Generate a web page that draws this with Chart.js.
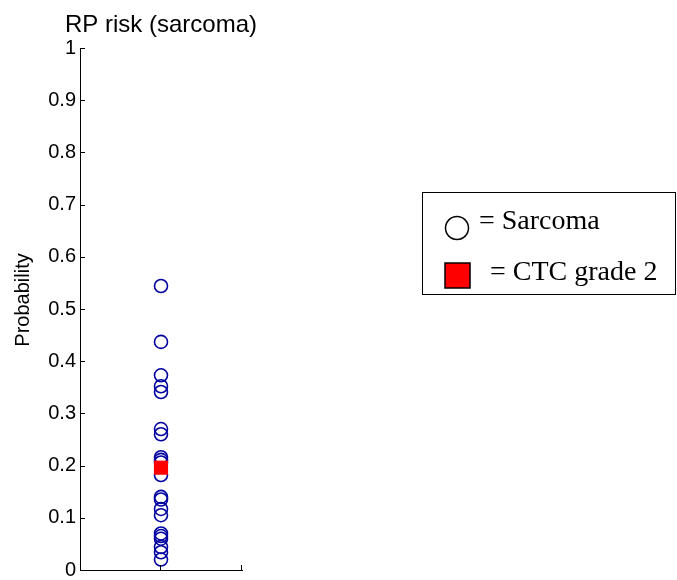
<!DOCTYPE html>
<html>
<head>
<meta charset="utf-8">
<title>RP risk (sarcoma)</title>
<script src="https://cdn.jsdelivr.net/npm/chart.js@4/dist/chart.umd.min.js"></script>
<style>
  body { margin: 0; background: #fff; }
  #wrap { width: 677px; height: 580px; }
</style>
</head>
<body>
<div id="wrap"><canvas id="riskChart"></canvas></div>
<script>
// values
let chartTitle = 'RP risk (sarcoma)';
let yLabel = 'Probability';
let legendLabels = ['Sarcoma', 'CTC grade 2'];
let sarcomaRisk = [0.544, 0.437, 0.373, 0.352, 0.341, 0.270, 0.260, 0.216, 0.211, 0.206, 0.182,
                   0.140, 0.135, 0.117, 0.105, 0.070, 0.065, 0.060, 0.044, 0.034, 0.020];
let ctcGrade2Risk = [0.196];
let yTicks = [0, 0.1, 0.2, 0.3, 0.4, 0.5, 0.6, 0.7, 0.8, 0.9, 1];
let yTickLabels = ['0', '0.1', '0.2', '0.3', '0.4', '0.5', '0.6', '0.7', '0.8', '0.9', '1'];
let xTicks = [1, 2];

function toPoints(values) {
    return values.map(function (v) { return { x: 1, y: v }; });
}

// MATLAB style extras: inward ticks, title, axis label and the boxed legend
let extras = {
    id: 'extras',
    afterDraw: function (chart) {
        let ctx = chart.ctx;
        let area = chart.chartArea;
        let xs = chart.scales.x;
        let ys = chart.scales.y;
        ctx.save();
        ctx.strokeStyle = '#000';
        ctx.lineWidth = 1;
        ctx.beginPath();
        yTicks.forEach(function (t) {
            let py = Math.round(ys.getPixelForValue(t)) + 0.5;
            ctx.moveTo(area.left, py);
            ctx.lineTo(area.left + 5, py);
        });
        xTicks.forEach(function (t) {
            let px = Math.round(xs.getPixelForValue(t)) - 0.5;
            ctx.moveTo(px, area.bottom);
            ctx.lineTo(px, area.bottom - 5);
        });
        ctx.stroke();

        ctx.fillStyle = '#000';
        ctx.font = '24px "Liberation Sans", Arial, sans-serif';
        ctx.textAlign = 'center';
        ctx.textBaseline = 'alphabetic';
        ctx.fillText(chartTitle, (area.left + area.right) / 2, 32);

        ctx.save();
        ctx.translate(29, 300);
        ctx.rotate(-Math.PI / 2);
        ctx.font = '20px "Liberation Sans", Arial, sans-serif';
        ctx.fillText(yLabel, 0, 0);
        ctx.restore();

        // legend box
        ctx.lineWidth = 1;
        ctx.strokeRect(422.5, 192.5, 253, 102);
        ctx.lineWidth = 1.5;
        ctx.beginPath();
        ctx.arc(457, 228, 11.5, 0, Math.PI * 2);
        ctx.stroke();
        ctx.fillStyle = '#ff0000';
        ctx.fillRect(445, 263, 25, 25);
        ctx.strokeRect(445, 263, 25, 25);
        ctx.fillStyle = '#000';
        ctx.font = '28px "Liberation Serif", "Times New Roman", serif';
        ctx.textAlign = 'left';
        ctx.fillText('= ' + legendLabels[0], 479, 229);
        ctx.fillText('= ' + legendLabels[1], 490, 280);
        ctx.restore();
    }
};

let ctx = document.getElementById('riskChart').getContext('2d');
let chart = new Chart(ctx, {
    type: 'scatter',
    data: {
        datasets: [{
            label: legendLabels[1],
            data: toPoints(ctcGrade2Risk),
            pointStyle: 'rect',
            pointRadius: 10,
            pointHoverRadius: 10,
            borderWidth: 0,
            borderColor: '#ff0000',
            backgroundColor: '#ff0000'
        }, {
            label: legendLabels[0],
            data: toPoints(sarcomaRisk),
            pointStyle: 'circle',
            pointRadius: 6.5,
            pointHoverRadius: 6.5,
            borderWidth: 1.6,
            borderColor: 'rgb(0, 0, 160)',
            backgroundColor: 'rgba(0, 0, 0, 0)'
        }]
    },
    options: {
        responsive: true,
        maintainAspectRatio: false,
        animation: false,
        events: [],
        layout: { padding: { top: 48, left: 0, right: 435, bottom: 7 } },
        plugins: {
            legend: { display: false },
            title: { display: false },
            tooltip: { enabled: false }
        },
        scales: {
            x: {
                type: 'linear',
                min: 0,
                max: 2,
                ticks: { display: false },
                grid: { display: false, drawTicks: false },
                border: { display: true, color: '#000', width: 1 }
            },
            y: {
                type: 'linear',
                min: 0,
                max: 1,
                afterBuildTicks: function (scale) {
                    scale.ticks = yTicks.map(function (v) { return { value: v }; });
                },
                ticks: {
                    color: '#000',
                    padding: 4,
                    font: { family: '"Liberation Sans", Arial, sans-serif', size: 20 },
                    callback: function (value) {
                        let i = yTicks.indexOf(value);
                        return i >= 0 ? yTickLabels[i] : '';
                    }
                },
                grid: { display: false, drawTicks: false },
                border: { display: true, color: '#000', width: 1 },
                afterFit: function (scale) {
                    scale.width = 80;
                    scale.paddingTop = 0;
                    scale.paddingBottom = 0;
                }
            }
        }
    },
    plugins: [extras]
});
</script>
</body>
</html>
